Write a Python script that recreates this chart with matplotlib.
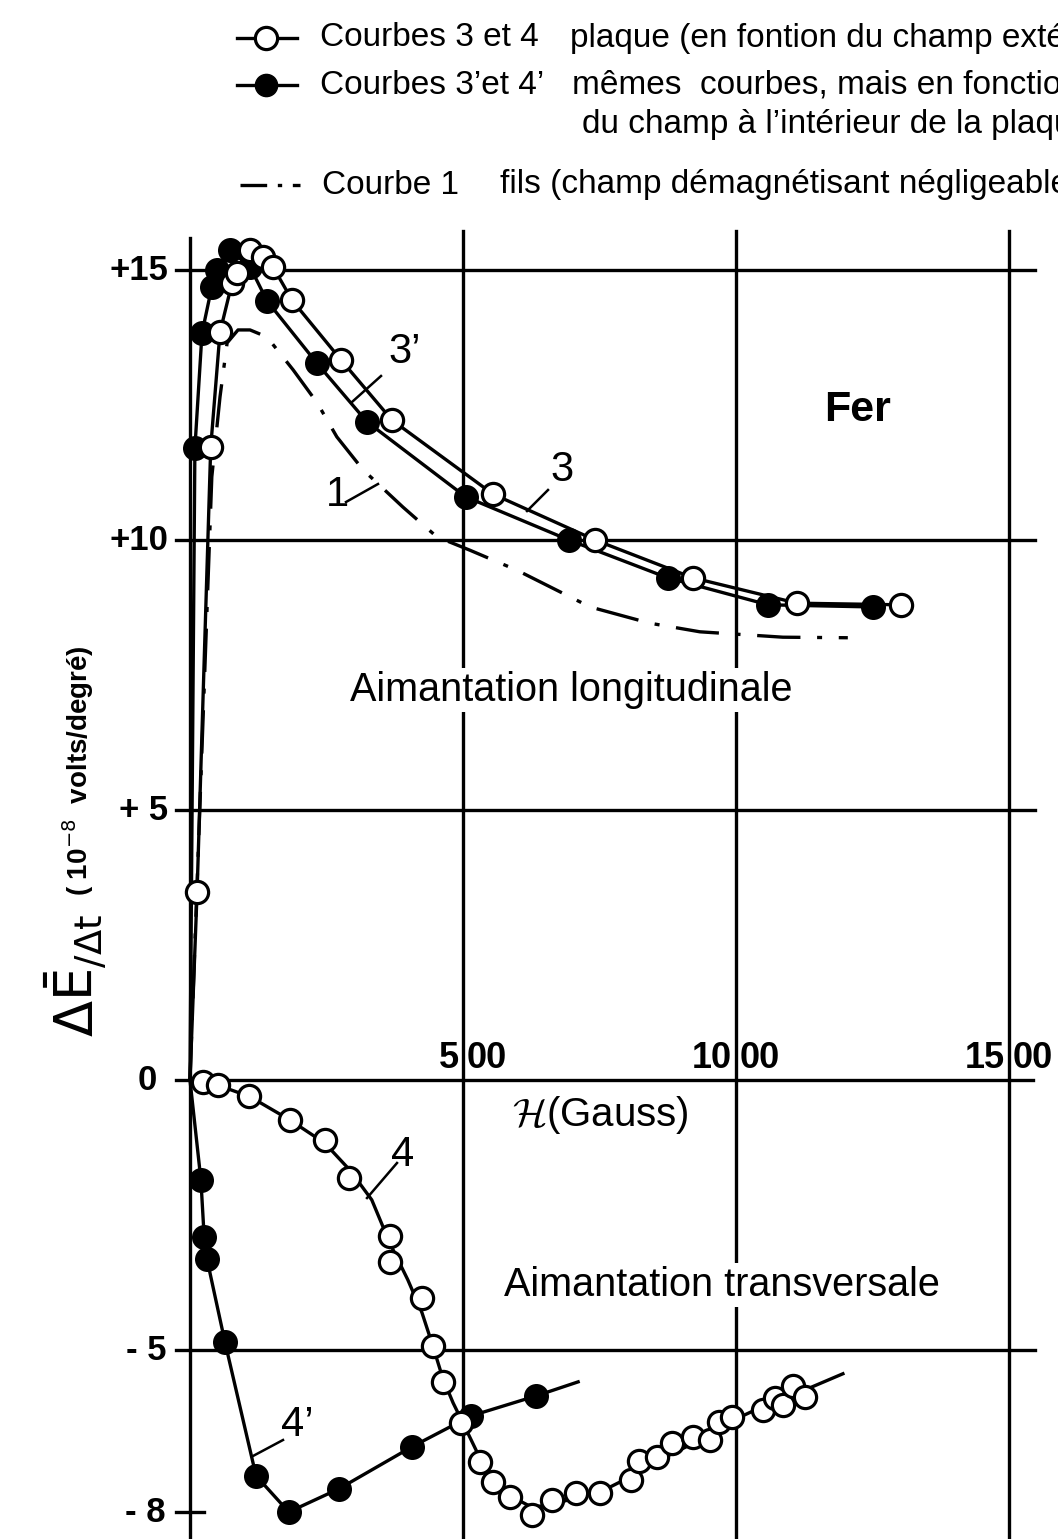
import matplotlib
matplotlib.use("Agg")
import matplotlib.pyplot as plt
from matplotlib.transforms import Affine2D

# ---------------------------------------------------------------
# Données (H en gauss, dE/dt en 1e-8 V/degré)
# ---------------------------------------------------------------
# Courbe 3 : plaque, en fonction du champ extérieur (long.)
c3_h = [13, 38, 55, 77, 86, 110, 134, 152, 187, 277, 370, 555, 742, 921, 1112, 1302]
c3_v = [3.48, 11.72, 13.85, 14.76, 14.94, 15.37, 15.24, 15.06, 14.44, 13.33, 12.22,
        10.85, 10.0, 9.30, 8.83, 8.80]

# Courbe 3' : mêmes mesures, en fonction du champ intérieur
c3p_h = [9, 22, 40, 49, 73, 110, 141, 232, 324, 505, 694, 875, 1059, 1251]
c3p_v = [11.70, 13.83, 14.69, 15.0, 15.37, 15.06, 14.43, 13.28, 12.19, 10.80,
         10.0, 9.30, 8.80, 8.76]

# Courbe 1 : fils (trait mixte, sans points)
c1_h = [0, 40, 55, 68, 88, 110, 141, 189, 233, 269, 317, 390, 452, 513, 599,
        733, 842, 934, 1086, 1205]
c1_v = [0, 11.17, 12.65, 13.65, 13.89, 13.89, 13.76, 13.15, 12.54, 11.91, 11.30,
        10.61, 10.06, 9.81, 9.44, 8.76, 8.46, 8.30, 8.20, 8.19]

# Courbe 4 : plaque, aimantation transversale (points)
c4_h = [24, 52, 108, 183, 247, 292, 366, 366, 425, 445, 463, 496, 531, 555, 586,
        626, 663, 707, 751, 808, 822, 855, 883, 921, 952, 969, 993, 1049, 1071,
        1086, 1104, 1126]
c4_v = [-0.03, -0.10, -0.30, -0.74, -1.11, -1.82, -2.89, -3.37, -4.04, -4.93,
        -5.59, -6.35, -7.07, -7.44, -7.72, -8.06, -7.78, -7.65, -7.65, -7.41,
        -7.06, -6.98, -6.72, -6.61, -6.67, -6.33, -6.24, -6.11, -5.89, -6.02,
        -5.67, -5.87]
# tracé moyen de la courbe 4
c4_line_h = [0, 55, 110, 183, 247, 293, 333, 366, 399, 425, 445, 463, 482, 500,
             531, 559, 590, 626, 659, 714, 769, 824, 879, 934, 989, 1044, 1117, 1196]
c4_line_v = [0, -0.11, -0.31, -0.74, -1.17, -1.67, -2.22, -3.02, -3.70, -4.31,
             -4.93, -5.52, -5.98, -6.35, -7.0, -7.41, -7.72, -7.91, -7.87, -7.72,
             -7.54, -7.26, -6.94, -6.67, -6.33, -6.07, -5.78, -5.44]

# Courbe 4' : champ intérieur, aimantation transversale
c4p_h = [20, 26, 31, 64, 121, 181, 273, 407, 515, 634]
c4p_v = [-1.85, -2.91, -3.31, -4.85, -7.33, -8.0, -7.57, -6.79, -6.22, -5.85]
c4p_end = (711, -5.59)

y_ticks = [15, 10, 5, 0, -5, -8]
y_labels = ["+15", "+10", "+ 5", "0", "- 5", "- 8"]
x_grid = [500, 1000, 1500]
y_grid = [15, 10, 5, -5]

# ---------------------------------------------------------------
W, H = 1058, 1539
FONT = ["Liberation Sans", "DejaVu Sans"]
plt.rcParams["font.family"] = FONT

fig = plt.figure(figsize=(W / 100, H / 100), dpi=100)
ax = fig.add_axes([0, 0, 1, 1])
ax.set_xlim(-348, 1590)
ax.set_ylim(-8.5, 20.0)
ax.axis("off")

# pixel coordinates (origin top-left) for the lettering
pix = Affine2D().scale(1 / W, -1 / H).translate(0, 1) + fig.transFigure

LW = 2.4
K = "black"

# grid
for v in y_grid:
    ax.plot([-25, 1548], [v, v], color=K, lw=LW, zorder=1)
ax.plot([-25, 1545], [0, 0], color=K, lw=LW, zorder=1)
for h in x_grid:
    ax.plot([h, h], [15.72, -8.6], color=K, lw=LW, zorder=1)
ax.plot([0, 0], [15.6, -8.6], color=K, lw=LW, zorder=1)
ax.plot([-25, 25], [-8, -8], color=K, lw=LW, zorder=1)

# curves
ax.plot([0] + c3_h, [0] + c3_v, color=K, lw=LW, zorder=3)
ax.plot([0] + c3p_h, [0] + c3p_v, color=K, lw=LW, zorder=3)
ax.plot(c1_h, c1_v, color=K, lw=LW, zorder=3, linestyle=(0, (13, 5, 1.5, 5)))
ax.plot(c4_line_h, c4_line_v, color=K, lw=LW, zorder=3)
ax.plot([0] + c4p_h + [c4p_end[0]], [0] + c4p_v + [c4p_end[1]], color=K, lw=LW, zorder=3)

MS = 16
ax.plot(c3p_h, c3p_v, "o", ms=MS, mfc=K, mec=K, mew=2, zorder=4)
ax.plot(c4p_h, c4p_v, "o", ms=MS, mfc=K, mec=K, mew=2, zorder=4)
ax.plot(c3_h, c3_v, "o", ms=MS, mfc="white", mec=K, mew=2.3, zorder=5)
ax.plot(c4_h, c4_v, "o", ms=MS, mfc="white", mec=K, mew=2.3, zorder=5)

# tick labels
y_label_right = [168, 168, 168, 157, 166, 166]
for v, lab, xr in zip(y_ticks, y_labels, y_label_right):
    ax.text(xr, 1080 - v * 54, lab, transform=pix, ha="right", va="center",
            fontsize=25, fontweight="bold")
for h in x_grid:
    s = str(h)
    xp = 190 + h * 0.546
    ax.text(xp - 4, 1058, s[:-2], transform=pix, ha="right", va="center",
            fontsize=26, fontweight="bold")
    ax.text(xp + 4, 1058, s[-2:], transform=pix, ha="left", va="center",
            fontsize=26, fontweight="bold")

# axis titles
fig.text(600, 1115, r"$\mathcal{H}$(Gauss)", transform=pix, ha="center", va="center",
         fontsize=29, math_fontfamily="cm")
fig.text(76, 1037, r"$\Delta\bar{\mathrm{E}}_{/\Delta \mathrm{t}}$", transform=pix,
         rotation=90, rotation_mode="anchor", ha="left", va="center", fontsize=38,
         math_fontfamily="dejavusans")
fig.text(78, 896, "( 10$^{-8}$  volts/degré)", transform=pix, rotation=90,
         rotation_mode="anchor", ha="left", va="center", fontsize=20, fontweight="bold",
         math_fontfamily="dejavusans")

# annotations inside the plot
box = dict(facecolor="white", edgecolor="none", pad=2)
fig.text(571, 690, "Aimantation longitudinale", transform=pix, ha="center", va="center",
         fontsize=28.5, bbox=box, zorder=2)
fig.text(722, 1285, "Aimantation transversale", transform=pix, ha="center", va="center",
         fontsize=28.5, bbox=box, zorder=2)
fig.text(858, 410, "Fer", transform=pix, ha="center", va="center", fontsize=31,
         fontweight="bold")

labels = [("3’", 405, 352, (381, 376), (352, 402)),
          ("3", 562, 470, (548, 490), (527, 511)),
          ("1", 337, 495, (346, 502), (378, 484)),
          ("4", 403, 1155, (397, 1163), (367, 1198)),
          ("4’", 297, 1425, (283, 1440), (253, 1456))]
for txt, tx, ty, p0, p1 in labels:
    fig.text(tx, ty, txt, transform=pix, ha="center", va="center", fontsize=30)
    fig.add_artist(plt.Line2D([p0[0], p1[0]], [p0[1], p1[1]], transform=pix,
                              color=K, lw=1.8))

# legend (drawn by hand, like the original)
fig.add_artist(plt.Line2D([237, 297], [38, 38], transform=pix, color=K, lw=LW))
fig.add_artist(plt.Line2D([266], [38], transform=pix, marker="o", ms=MS,
                          mfc="white", mec=K, mew=2.3))
fig.add_artist(plt.Line2D([237, 297], [85, 85], transform=pix, color=K, lw=LW))
fig.add_artist(plt.Line2D([266], [85], transform=pix, marker="o", ms=MS, mfc=K, mec=K))
fig.add_artist(plt.Line2D([240, 300], [185, 185], transform=pix, color=K, lw=LW,
                          linestyle=(0, (8, 3.2, 1.3, 3.2, 10, 10))))

leg_rows = [(320, 38, "Courbes 3 et 4"),
            (570, 38, "plaque (en fontion du champ extérieur)"),
            (320, 85, "Courbes 3’et 4’"),
            (572, 85, "mêmes  courbes, mais en fonction"),
            (582, 124, "du champ à l’intérieur de la plaque)"),
            (322, 185, "Courbe 1"),
            (500, 185, "fils (champ démagnétisant négligeable)")]
for x, y, s in leg_rows:
    fig.text(x, y, s, transform=pix, ha="left", va="center", fontsize=24)

fig.savefig("out.png", dpi=100, facecolor="white")
